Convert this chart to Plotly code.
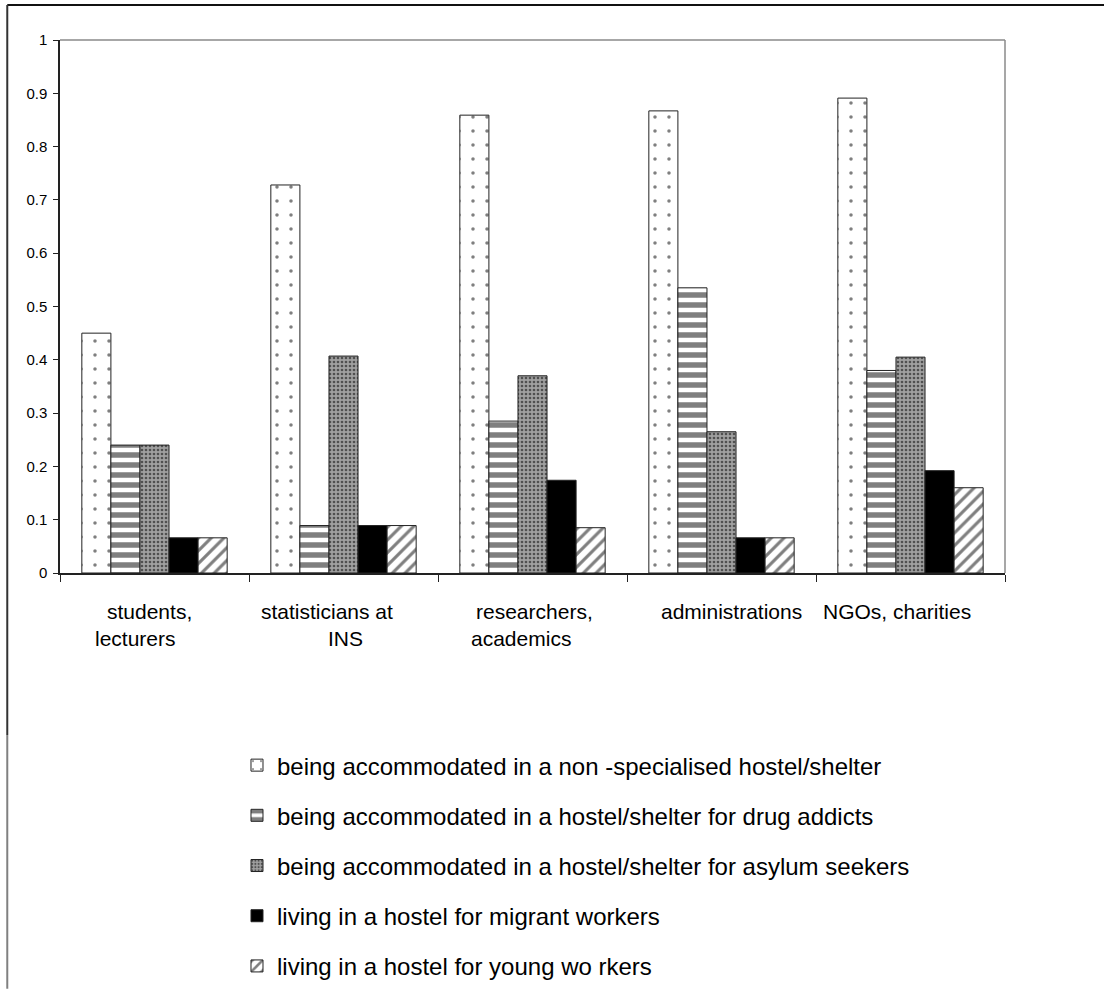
import plotly.graph_objects as go

# Respondent groups (x categories) and the two lines of each axis label
categories = ["students, lecturers", "statisticians at INS", "researchers, academics",
              "administrations", "NGOs, charities"]
label_line1 = ["students,", "statisticians at", "researchers,", "administrations", "NGOs, charities"]
label_line2 = ["lecturers", "INS", "academics", "", ""]

# Series names (legend order)
series_names = [
    "being accommodated in a non -specialised hostel/shelter",
    "being accommodated in a hostel/shelter for drug addicts",
    "being accommodated in a hostel/shelter for asylum seekers",
    "living in a hostel for migrant workers",
    "living in a hostel for young wo rkers",
]

# Share of respondents per group
non_specialised = [0.450, 0.728, 0.859, 0.867, 0.891]
drug_addicts = [0.240, 0.089, 0.285, 0.535, 0.380]
asylum_seekers = [0.240, 0.407, 0.370, 0.265, 0.405]
migrant_workers = [0.066, 0.089, 0.174, 0.066, 0.192]
young_workers = [0.066, 0.089, 0.085, 0.066, 0.160]

series_values = [non_specialised, drug_addicts, asylum_seekers, migrant_workers, young_workers]

# Fill patterns for the black & white bars
patterns = [
    dict(shape=".", fgcolor="black", bgcolor="white", size=14, solidity=0.05),
    dict(shape="-", fgcolor="black", bgcolor="white", size=10, solidity=0.55),
    dict(shape=".", fgcolor="#000000", bgcolor="#a0a0a0", size=4, solidity=0.35),
    dict(shape="", fgcolor="black", bgcolor="black"),
    dict(shape="/", fgcolor="black", bgcolor="white", size=9, solidity=0.35),
]
bar_colors = ["white", "white", "#a0a0a0", "black", "white"]

FONT = "Liberation Sans, Arial, sans-serif"

fig = go.Figure()
for i, (name, vals) in enumerate(zip(series_names, series_values)):
    fig.add_trace(go.Bar(
        x=categories, y=vals, name=name,
        legendgroup=f"g{i}",
        marker=dict(color=bar_colors[i], pattern=patterns[i],
                    line=dict(color="#222222", width=1)),
    ))

# Two-line category labels under the axis
shift1 = [-5, -17, 2, 10, -14]
shift2 = [-19, 2, -12, 0, 0]
annotations = []
for cat, l1, l2, s1, s2 in zip(categories, label_line1, label_line2, shift1, shift2):
    annotations.append(dict(x=cat, xref="x", y=-0.0713, yref="paper", text=l1,
                            showarrow=False, xanchor="center", yanchor="middle",
                            xshift=s1, font=dict(family=FONT, size=21, color="black")))
    if l2:
        annotations.append(dict(x=cat, xref="x", y=-0.1238, yref="paper", text=l2,
                                showarrow=False, xanchor="center", yanchor="middle",
                                xshift=s2, font=dict(family=FONT, size=21, color="black")))

shapes = [
    # plot-area top and right edges (light grey)
    dict(type="line", xref="paper", yref="paper", x0=0, x1=1, y0=1, y1=1,
         line=dict(color="#8a8a8a", width=1.5)),
    dict(type="line", xref="paper", yref="paper", x0=1, x1=1, y0=0, y1=1,
         line=dict(color="#8a8a8a", width=1.5)),
    # outer chart frame
    dict(type="line", xref="paper", yref="paper", x0=-0.0558, x1=1.11, y0=1.0657, y1=1.0657,
         line=dict(color="#111111", width=2)),
    dict(type="line", xref="paper", yref="paper", x0=-0.0558, x1=-0.0558, y0=1.0657, y1=-0.304,
         line=dict(color="#333333", width=2)),
    dict(type="line", xref="paper", yref="paper", x0=-0.0558, x1=-0.0558, y0=-0.304, y1=-0.78,
         line=dict(color="#808080", width=2)),
]

fig.update_layout(
    width=1104, height=990,
    margin=dict(l=60, r=99, t=40, b=417, autoexpand=False),
    paper_bgcolor="white", plot_bgcolor="white",
    barmode="group", bargap=0.231, bargroupgap=0,
    font=dict(family=FONT, color="black"),
    showlegend=True,
    legend=dict(x=0.1873, xanchor="left", y=-0.319, yanchor="top",
                font=dict(family=FONT, size=24, color="black"),
                traceorder="grouped", tracegroupgap=16,
                bgcolor="rgba(0,0,0,0)"),
    annotations=annotations,
    shapes=shapes,
)
fig.update_xaxes(
    type="category", showticklabels=False, showgrid=False,
    showline=True, linecolor="#222222", linewidth=1.5,
    ticks="outside", tickson="boundaries", ticklen=7, tickcolor="#222222", tickwidth=1,
)
fig.update_yaxes(
    range=[0, 1], dtick=0.1, tick0=0, showgrid=False, zeroline=False,
    showline=True, linecolor="#222222", linewidth=1.5,
    ticks="outside", ticklen=5, tickcolor="#222222", tickwidth=1,
    tickfont=dict(family=FONT, size=15, color="black"), ticklabelstandoff=3,
)

fig.write_html("out.html")
